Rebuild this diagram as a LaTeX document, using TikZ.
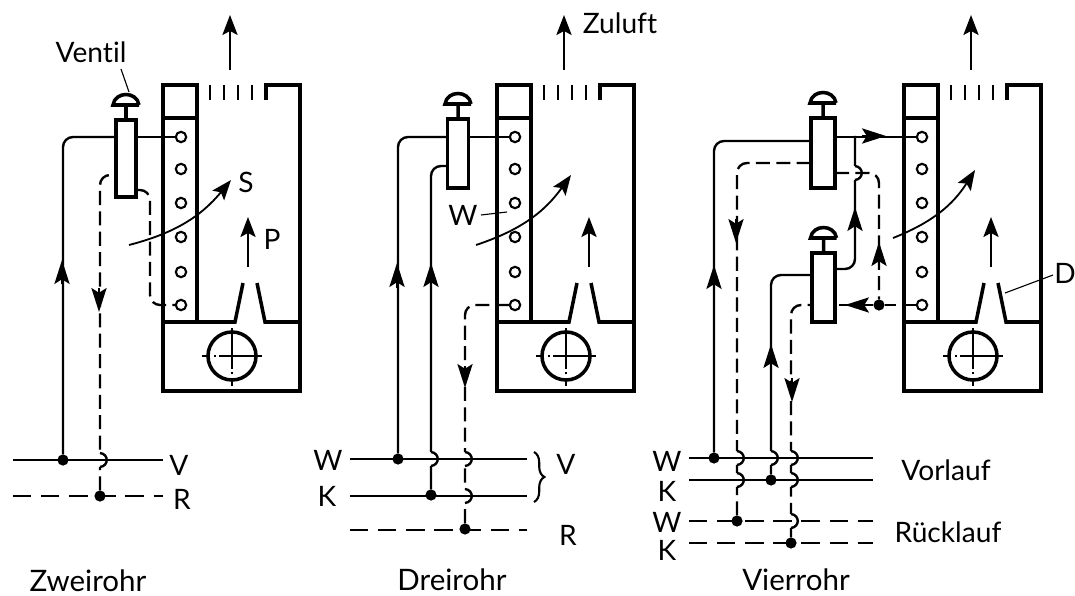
\documentclass[tikz,border=0pt]{standalone}
\usepackage{fontspec}
\setmainfont[Ligatures=NoCommon]{Lato}
\usetikzlibrary{arrows.meta,decorations.pathreplacing}

\tikzset{
  unitline/.style={line width=2.5pt},
  grilleline/.style={line width=1.8pt},
  pipe/.style={line width=1.7pt,rounded corners=2.5mm},
  backpipe/.style={pipe,dash pattern=on 10pt off 4.5pt},
  flow/.style={line width=1.3pt,-{Stealth[length=5mm,width=3.8mm,inset=1mm]}},
  tipflow/.style={line width=1.3pt,-{Stealth[length=6mm,width=3.8mm,inset=1.2mm]}},
  leader/.style={line width=.8pt},
  coil/.style={circle,draw,fill=white,line width=1.5pt,minimum size=2.6mm,inner sep=0pt,outer sep=0pt},
  jdot/.style={circle,fill=black,minimum size=2.8mm,inner sep=0pt,outer sep=0pt},
  fanwheel/.style={circle,draw,line width=2.5pt,minimum size=12mm,inner sep=0pt},
  valvebox/.style={rectangle,draw,line width=2.5pt,fill=white,inner sep=0pt,outer sep=0pt},
  lbl/.style={font=\fontsize{20}{20}\selectfont,inner sep=0pt},
  caplbl/.style={font=\fontsize{21}{21}\selectfont,inner sep=0pt},
}

\newcommand{\pipehop}[2]{%
  \fill[white] (#1-2.5,#2-7) rectangle (#1+2.5,#2+7);
  \draw[line width=1.7pt] (#1,#2-7) .. controls (#1+9,#2-6) and (#1+9,#2+6) .. (#1,#2+7);
}

\begin{document}
\begin{tikzpicture}[x=.25mm,y=-.25mm]
  \useasboundingbox (0,0) rectangle (1075,596);
  % the three air units
  \foreach \ux/\px/\sx/\sy/\ex/\ey [count=\i from 1] in {163/85/-34/245/68/180,497/92/-21/245/74/175,904/87/-11/238/71/170}{%
    \begin{scope}[shift={(\ux,0)}]
      \draw[unitline] (103,100)--(103,85)--(137,85)--(137,391)--(0,391)--(0,85)--(34,85)--(34,322);
      \draw[unitline] (0,118)--(34,118);
      \draw[unitline] (0,322)--(72,322)--(80,283);
      \draw[unitline] (94,283)--(102,322)--(137,322);
      \foreach \tx in {47,61,75,89}{%
        \draw[grilleline] (\tx,85)--(\tx,100);
      }
      \foreach \cy [count=\j from 1] in {137,169,203,237,272,305}{%
        \node[coil] (coil\i\j) at (18,\cy) {};
      }
      \node[fanwheel] (fan\i) at (69,356) {};
      \draw[line width=1pt] (fan\i.center) -- ++(30,0);
      \draw[line width=1pt] (fan\i.center) -- ++(0,-28);
      \draw[line width=1pt,dash pattern=on 9pt off 2.5pt on 1.5pt off 2.5pt] (fan\i.center) -- ++(-30,0);
      \draw[line width=1pt,dash pattern=on 9pt off 2.5pt on 1.5pt off 2.5pt] (fan\i.center) -- ++(0,30);
      \draw[flow] (67,70)--(67,15);
      \draw[flow] (\px,267)--(\px,217);
      \draw[flow] (\sx,\sy) to[bend right=18] (\ex,\ey);
    \end{scope}
  }
  % valves
  \node[valvebox,minimum width=5mm,minimum height=19.25mm] (valveA) at (126,158.5) {};
  \node[valvebox,minimum width=5.25mm,minimum height=17.25mm] (valveB) at (458,153.5) {};
  \node[valvebox,minimum width=6mm,minimum height=17.5mm] (valveC) at (823,153) {};
  \node[valvebox,minimum width=5.75mm,minimum height=17.25mm] (valveD) at (823.5,287.5) {};
  \foreach \v in {valveA,valveB,valveC,valveD}{%
    \draw[unitline] (\v.north) -- ++(0,-15) ++(13,0) -- ++(-26,0) .. controls +(2,-14) and +(-2,-14) .. ++(26,0);
  }
  % junctions on the mains
  \foreach \nm/\jx/\jy in {dotVa/63/460,dotRa/100/496,dotWb/398/459,dotKb/431/495,dotRb/465/529,
    dotWc/714/458,dotKc/771/480,dotWr/737/521,dotKr/791/543,dotE/879/305}{%
    \node[jdot] (\nm) at (\jx,\jy) {};
  }
  \coordinate (teeC) at (855,136);
  % risers
  \draw[pipe] (dotVa) |- (valveA.west |- coil11);
  \draw[pipe] (valveA.east |- coil11) -- (coil11);
  \draw[backpipe] (dotRa) |- (valveA.west |- 0,175);
  \draw[backpipe] (valveA.east |- 0,190) -- (150,190) |- (coil16);
  \draw[pipe] (dotWb) |- (valveB.west |- coil21);
  \draw[pipe] (dotKb) |- (valveB.west |- 0,166);
  \draw[pipe] (valveB.east |- coil21) -- (coil21);
  \draw[backpipe] (coil26) -| (dotRb);
  \draw[pipe] (dotWc) |- (valveC.west |- 0,141);
  \draw[pipe] (dotKc) |- (valveD.west |- 0,275);
  \draw[pipe] (valveC.east |- coil31) -- (coil31);
  \draw[pipe] (valveD.east |- 0,269) -| (teeC);
  \draw[backpipe] (dotWr) |- (valveC.west |- 0,163);
  \draw[backpipe] (dotKr) |- (valveD.west |- coil36);
  \pipehop{855}{173}
  \draw[backpipe] (valveC.east |- 0,173) -| (dotE);
  \draw[backpipe] (coil36) -- (dotE);
  \draw[backpipe] (dotE) -- (valveD.east |- coil36);
  % arrow tips on the pipes
  \foreach \xa/\ya/\xb/\yb in {62/284/62/260,99/288/99/312,397/288/397/263,431/288/431/263,465/366/465/388,
    714/290/714/265,736/219/736/243,771/368/771/344,792/378/792/402,855/232/855/207,879/267/879/242,
    862/136/886/136,869/305/845/305}{%
    \draw[tipflow] (\xa,\ya)--(\xb,\yb);
  }
  % crossings
  \foreach \hx/\hy in {100/460,431/459,465/459,465/496,737/458,737/480,771/458,791/458,791/480,791/521}{%
    \pipehop{\hx}{\hy}
  }
  % mains
  \foreach \nm/\xa/\xb/\ly in {mVa/13/163/460,mWb/350/527/459,mKb/350/527/496,mWc/689/873/458,mKc/689/873/480}{%
    \coordinate (\nm L) at (\xa,\ly);
    \coordinate (\nm R) at (\xb,\ly);
    \draw[pipe] (\nm L) -- (\nm R);
  }
  \foreach \nm/\xa/\xb/\ly in {mRa/13/163/496,mRb/350/527/530,mWr/689/873/521,mKr/689/873/543}{%
    \coordinate (\nm L) at (\xa,\ly);
    \coordinate (\nm R) at (\xb,\ly);
    \draw[backpipe,dash pattern=on 13pt off 7pt] (\nm L) -- (\nm R);
  }
  \coordinate (braceT) at (534,452);
  \coordinate (braceB) at (534,502);
  \draw[line width=1.5pt,decorate,decoration={brace,amplitude=2.6mm}] (braceT) -- (braceB);
  % labels
  \node[lbl] (ventil) at (91,52) {Ventil};
  \node[lbl] (zuluft) at (620,23) {Zuluft};
  \node[lbl] (sLbl) at (246,182) {S};
  \node[lbl] (pLbl) at (272,239) {P};
  \node[lbl] (wLbl) at (463,215) {W};
  \node[lbl] (dLbl) at (1065,273) {D};
  \coordinate (ventilA) at (121,69);
  \coordinate (ventilB) at (129,92);
  \coordinate (wA) at (481,215);
  \coordinate (wB) at (507,212);
  \coordinate (dA) at (1053,275);
  \coordinate (dB) at (1005,293);
  \draw[leader] (ventilA) -- (ventilB);
  \draw[leader] (wA) -- (wB);
  \draw[leader] (dA) -- (dB);
  \foreach \nm/\lx/\ly/\t in {lVa/179/465/V,lRa/182/499/R,lWb/328/460/W,lKb/327/496/K,lVb/566/464/V,lRb/568/535/R,
    lWc/667/461/W,lKc/667/491/K,lWr/667/522/W,lKr/667/550/K}{%
    \node[lbl] (\nm) at (\lx,\ly) {\t};
  }
  \node[lbl] (vorlauf) at (946,470) {Vorlauf};
  \node[lbl] (ruecklauf) at (948,532) {Rücklauf};
  \node[caplbl] (zwei) at (88,581) {Zweirohr};
  \node[caplbl] (drei) at (452,580) {Dreirohr};
  \node[caplbl] (vier) at (796,580) {Vierrohr};
\end{tikzpicture}
\end{document}
